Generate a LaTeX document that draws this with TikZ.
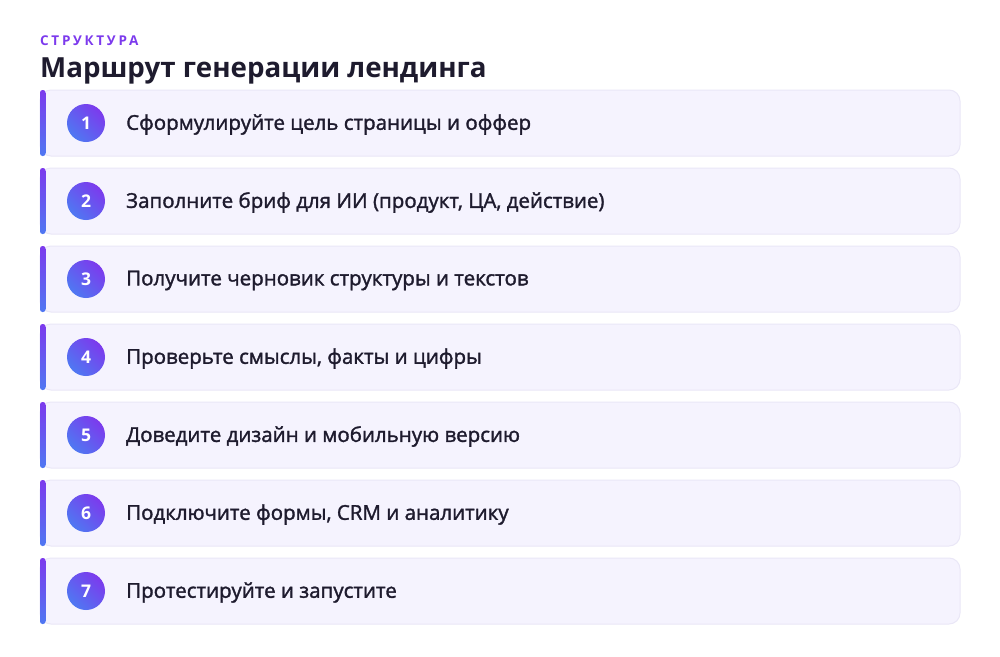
\documentclass[tikz,border=0pt]{standalone}
\usepackage{fontspec}
\setmainfont{Open Sans}
\newfontfamily\medfont{Open Sans}[FakeBold=1.6]
\usetikzlibrary{positioning}
\definecolor{accent}{HTML}{7C3AED}
\definecolor{accentb}{HTML}{4F78F2}
\definecolor{cardfill}{HTML}{F5F3FE}
\definecolor{cardline}{HTML}{EAE7F7}
\definecolor{ink}{HTML}{1E1B2E}
\tikzset{
  card/.style={draw=cardline, line width=1pt, fill=cardfill, rounded corners=11pt, minimum width=920pt, minimum height=66pt, inner sep=0pt},
  numdisc/.style={circle, minimum size=38pt, inner sep=0pt, left color=accent, right color=accentb, shading angle=-45, text=white, font=\fontsize{17.5}{19}\selectfont\bfseries},
  steptext/.style={anchor=west, text=ink, inner sep=0pt, font=\medfont\fontsize{20.5}{24}\selectfont},
}
\begin{document}
\begin{tikzpicture}[x=1pt,y=-1pt]
\useasboundingbox[fill=white] (0,0) rectangle (1000,656);
\node[anchor=west, inner sep=0pt, text=accent, font=\fontsize{13.5}{15}\selectfont\bfseries\addfontfeature{LetterSpace=20}] (kicker) at (40,41) {СТРУКТУРА};
\node[anchor=west, inner sep=0pt, text=ink, font=\fontsize{27.7}{32}\selectfont\bfseries] (title) at (40,70.5) {Маршрут генерации лендинга};
\foreach \i/\t in {1/{Сформулируйте цель страницы и оффер},
                   2/{Заполните бриф для ИИ (продукт, ЦА, действие)},
                   3/{Получите черновик структуры и текстов},
                   4/{Проверьте смыслы, факты и цифры},
                   5/{Доведите дизайн и мобильную версию},
                   6/{Подключите формы, CRM и аналитику},
                   7/{Протестируйте и запустите}}{
  \pgfmathsetmacro{\cy}{123+78*(\i-1)}
  \node[card] (card\i) at (500,\cy) {};
  \shade[top color=accent, bottom color=accentb, rounded corners=2.5pt] (40,\cy-33) rectangle (45.5,\cy+33);
  \node[numdisc] (num\i) at (86,\cy) {\i};
  \node[steptext] (txt\i) at (126,\cy+1.5) {\t};
}
\end{tikzpicture}
\end{document}
